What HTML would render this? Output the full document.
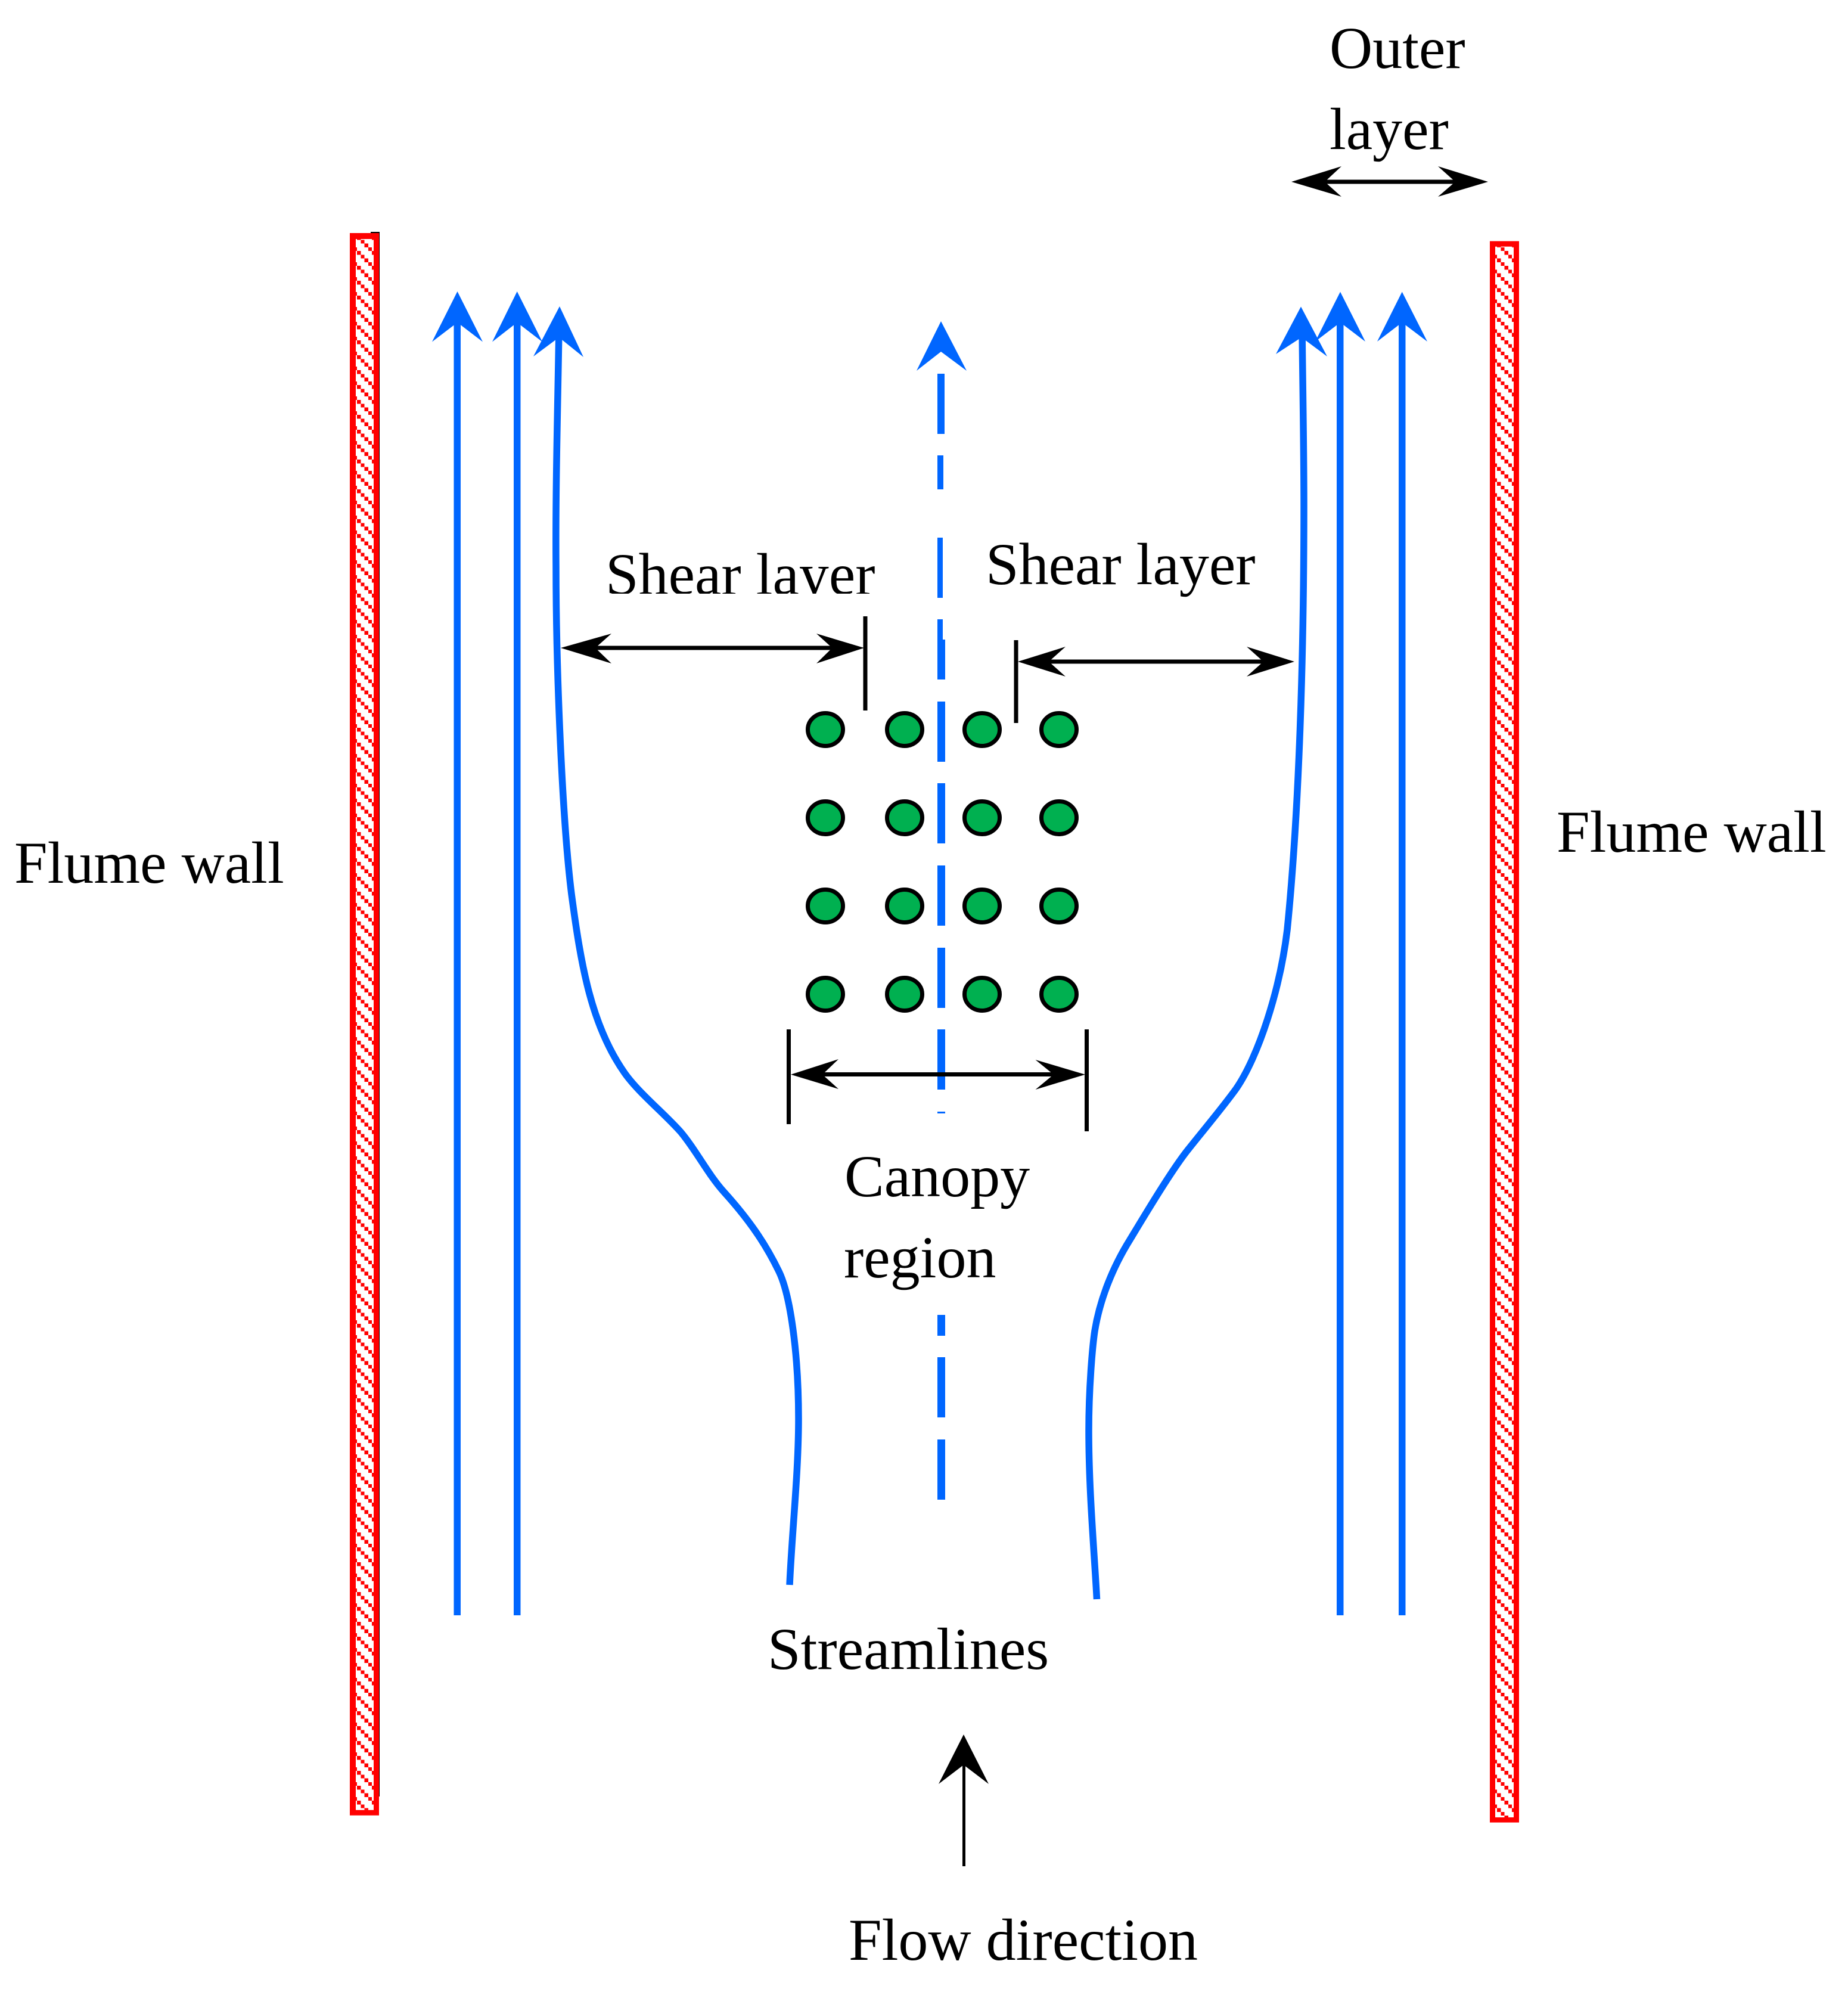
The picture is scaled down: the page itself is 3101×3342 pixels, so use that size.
<!DOCTYPE html>
<html>
<head>
<meta charset="utf-8">
<style>
html,body{margin:0;padding:0;background:#fff;width:3101px;height:3342px;overflow:hidden}
svg{display:block}
text{font-family:"Liberation Serif","Times New Roman",serif;font-size:100px;fill:#000}
</style>
</head>
<body>
<svg xmlns="http://www.w3.org/2000/svg" width="3101" height="3342" viewBox="0 0 3101 3342">
<defs>
<pattern id="hl" patternUnits="userSpaceOnUse" x="599" y="396" width="25" height="25">
<g fill="#f00" shape-rendering="crispEdges"><rect x="0" y="0" width="6.3" height="6.3"/><rect x="6.25" y="6.25" width="6.3" height="6.3"/><rect x="12.5" y="12.5" width="6.3" height="6.3"/><rect x="18.75" y="18.75" width="6.3" height="6.3"/></g>
</pattern>
<pattern id="hr" patternUnits="userSpaceOnUse" x="2512" y="408.5" width="25" height="25">
<g fill="#f00" shape-rendering="crispEdges"><rect x="0" y="0" width="6.3" height="6.3"/><rect x="6.25" y="6.25" width="6.3" height="6.3"/><rect x="12.5" y="12.5" width="6.3" height="6.3"/><rect x="18.75" y="18.75" width="6.3" height="6.3"/></g>
</pattern>
</defs>
<rect width="3101" height="3342" fill="#fff"/>

<!-- walls -->
<rect x="622" y="389" width="15" height="2625" fill="#000"/>
<rect x="587" y="391" width="49" height="2654.7" fill="#f00"/>
<rect x="597" y="401" width="30" height="2635.7" fill="#fff"/>
<rect x="597" y="401" width="30" height="2635.7" fill="url(#hl)"/>
<rect x="2500" y="404.6" width="49" height="2653" fill="#f00"/>
<rect x="2509" y="413.7" width="31" height="2635.3" fill="#fff"/>
<rect x="2509" y="413.7" width="31" height="2635.3" fill="url(#hr)"/>

<!-- straight streamlines -->
<g fill="#06f">
<rect x="761.5" y="530" width="11.5" height="2180"/>
<rect x="862" y="530" width="11.5" height="2180"/>
<rect x="2243" y="530" width="11.5" height="2180"/>
<rect x="2347" y="530" width="11.5" height="2180"/>
<polygon points="767.5,489 810,573.5 767.5,541 725,573.5"/>
<polygon points="867.7,489 910,573.5 867.7,541 826,573.5"/>
<polygon points="939,514 979,599 938,566 895,598"/>
<polygon points="2183,514.5 2227,598 2184,566 2141,594"/>
<polygon points="2249,489.6 2291,573 2249,541 2207,573"/>
<polygon points="2352.7,489.6 2395,573 2352.7,541 2311,573"/>
<polygon points="1579,539 1622,622 1579,590 1538,622"/>
</g>

<!-- curved streamlines -->
<g fill="none" stroke="#06f" stroke-width="11.5" stroke-linejoin="round">
<path d="M938,550 C936,680 932,820 933,950 C933,1130 944,1380 959,1500 C975,1620 992,1720 1048,1800 C1072,1834 1115,1868 1143,1900 C1168,1930 1188,1970 1215,2000 C1262,2052 1287,2092 1307,2133 C1326,2172 1340,2270 1340,2380 C1340,2470 1329,2570 1325,2659"/>
<path d="M2185,550 C2186,650 2188,750 2188,850 C2188,1100 2180,1360 2160,1560 C2148,1660 2112,1772 2074,1827 C2050,1860 2022,1893 1995,1927 C1968,1960 1922,2037 1896,2080 C1868,2125 1846,2178 1837,2233 C1833,2260 1827,2330 1827,2400 C1827,2500 1836,2600 1840.5,2683"/>
</g>

<!-- centre dashed line -->
<g fill="#06f" shape-rendering="crispEdges">
<rect x="1573" y="627" width="12" height="101"/>
<rect x="1573" y="764" width="10" height="57"/>
<rect x="1573" y="902" width="9" height="101"/>
<rect x="1573" y="1039" width="9" height="34"/>
<rect x="1573" y="1073" width="13" height="67"/>
<rect x="1573" y="1177" width="13" height="101"/>
<rect x="1573" y="1314" width="13" height="101"/>
<rect x="1573" y="1452" width="13" height="101"/>
<rect x="1573" y="1590" width="13" height="101"/>
<rect x="1573" y="1727" width="13" height="101"/>
<rect x="1573" y="1865" width="13" height="3"/>
<rect x="1573" y="2206" width="13" height="35"/>
<rect x="1573" y="2277" width="13" height="101"/>
<rect x="1573" y="2415" width="13" height="101"/>
</g>

<!-- circles -->
<g fill="#00b050" stroke="#000" stroke-width="7">
<ellipse cx="1385" cy="1224" rx="29.5" ry="27.5"/><ellipse cx="1518" cy="1224" rx="29.5" ry="27.5"/><ellipse cx="1648" cy="1224" rx="29.5" ry="27.5"/><ellipse cx="1777" cy="1224" rx="29.5" ry="27.5"/>
<ellipse cx="1385" cy="1372" rx="29.5" ry="27.5"/><ellipse cx="1518" cy="1372" rx="29.5" ry="27.5"/><ellipse cx="1648" cy="1372" rx="29.5" ry="27.5"/><ellipse cx="1777" cy="1372" rx="29.5" ry="27.5"/>
<ellipse cx="1385" cy="1520" rx="29.5" ry="27.5"/><ellipse cx="1518" cy="1520" rx="29.5" ry="27.5"/><ellipse cx="1648" cy="1520" rx="29.5" ry="27.5"/><ellipse cx="1777" cy="1520" rx="29.5" ry="27.5"/>
<ellipse cx="1385" cy="1668" rx="29.5" ry="27.5"/><ellipse cx="1518" cy="1668" rx="29.5" ry="27.5"/><ellipse cx="1648" cy="1668" rx="29.5" ry="27.5"/><ellipse cx="1777" cy="1668" rx="29.5" ry="27.5"/>
</g>

<!-- black dimension arrows -->
<g fill="#000">
<!-- outer layer -->
<rect x="2215" y="301.5" width="235" height="7"/>
<polygon points="2167,305 2251,279 2223,305 2251,330"/>
<polygon points="2497,305 2413,279 2442,305 2413,330"/>
<!-- shear left -->
<rect x="990" y="1083.5" width="415" height="7"/>
<polygon points="941,1087 1026,1063 999,1087 1026,1113"/>
<polygon points="1450,1087 1370,1063 1396.5,1087 1370,1113"/>
<rect x="1448.5" y="1034" width="7" height="158"/>
<!-- shear right -->
<rect x="1750" y="1106.5" width="380" height="7"/>
<polygon points="1708,1110 1788,1085 1760,1110 1788,1135"/>
<polygon points="2172,1110 2092,1085 2120,1110 2092,1135"/>
<rect x="1701.5" y="1074" width="7" height="139"/>
<!-- canopy -->
<rect x="1375" y="1799" width="398" height="7"/>
<polygon points="1327,1802.7 1407,1777 1380,1802.7 1407,1827"/>
<polygon points="1821,1802.7 1737.5,1778 1768,1802.7 1737.5,1828"/>
<rect x="1320" y="1727" width="7" height="159"/>
<rect x="1820" y="1727" width="7" height="171"/>
<!-- flow direction -->
<rect x="1615" y="2950" width="5" height="181"/>
<polygon points="1617,2910 1659,2993 1617,2961 1575,2993"/>
</g>

<!-- labels -->
<text x="2231" y="114">Outer</text>
<text x="2231" y="250">layer</text>
<text x="1016" y="997">Shear layer</text>
<rect x="1000" y="996" width="490" height="34" fill="#fff"/>
<text x="1654" y="980">Shear layer</text>
<text x="24" y="1481">Flume wall</text>
<text x="2612" y="1429">Flume wall</text>
<text x="1417" y="2007">Canopy</text>
<text x="1416" y="2143">region</text>
<text x="1288" y="2800">Streamlines</text>
<text x="1424" y="3288">Flow direction</text>
</svg>
</body>
</html>
